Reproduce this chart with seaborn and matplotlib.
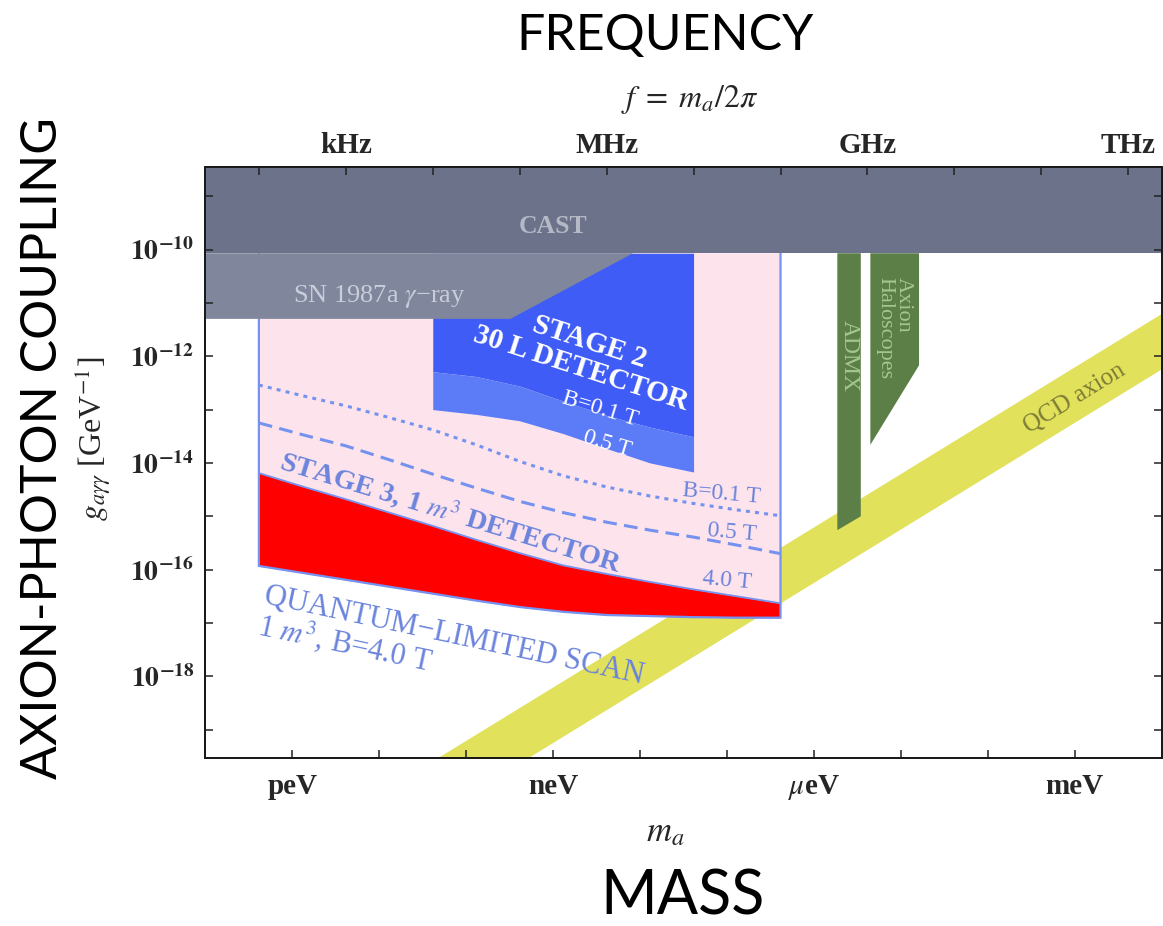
import numpy as np
import pandas as pd
import matplotlib
matplotlib.use("Agg")
import matplotlib.pyplot as plt
from matplotlib.ticker import NullLocator
import seaborn as sns

H_EV = 4.135667e-15  # Planck constant in eV s, converts frequency to mass

# ---- DM Radio sensitivity curves: log10(g [GeV^-1]) versus log10(f [Hz]) ----
stage3_logf = [2.0, 2.5, 3.0, 3.5, 4.0, 4.5, 5.0, 5.5, 6.0, 6.5, 7.0, 7.5, 8.0]
stage3_b01 = [-12.54, -12.74, -12.93, -13.15, -13.38, -13.66, -13.97, -14.24,
              -14.45, -14.62, -14.76, -14.88, -14.99]
stage3_b05 = [-13.25, -13.47, -13.68, -13.94, -14.21, -14.47, -14.72, -14.93,
              -15.11, -15.26, -15.39, -15.54, -15.70]
stage3_b40 = [-14.19, -14.44, -14.68, -14.93, -15.18, -15.44, -15.69, -15.92,
              -16.08, -16.23, -16.37, -16.50, -16.63]
quantum_limit = [-15.93, -16.06, -16.19, -16.32, -16.45, -16.58, -16.70, -16.79,
                 -16.85, -16.87, -16.89, -16.90, -16.90]

stage2_logf = [4.0, 4.5, 5.0, 5.5, 6.0, 6.5, 7.0]
stage2_b01 = [-12.29, -12.38, -12.56, -12.84, -13.11, -13.33, -13.51]
stage2_b05 = [-13.00, -13.09, -13.21, -13.45, -13.73, -14.00, -14.17]

# ---- existing limits ----
cast_limit = 10 ** -10.07                      # GeV^-1
sn_limit = 10 ** -11.30                        # GeV^-1
sn_mass_edges = [10 ** -9.49, 10 ** -8.08]     # eV: knee of the SN bound, meets CAST

admx_mass = [10 ** -5.73, 10 ** -5.46]         # eV
admx_floor = [10 ** -15.26, 10 ** -15.00]      # GeV^-1
halo_mass = [10 ** -5.35, 10 ** -4.79]         # eV
halo_floor = [10 ** -13.66, 10 ** -12.17]      # GeV^-1

# QCD axion band: g = c * m_a, c in GeV^-1 / eV
qcd_coeff_upper = 10 ** -9.21
qcd_coeff_lower = 10 ** -10.25

# ---- axis labels ----
mass_ticks = [1e-12, 1e-9, 1e-6, 1e-3]
mass_labels = ["peV", "neV", r"$\mu$eV", "meV"]
freq_ticks = [1e3, 1e6, 1e9, 1e12]
freq_labels = ["kHz", "MHz", "GHz", "THz"]
g_label_exponents = [-10, -12, -14, -16, -18]

# ---- colours ----
c_cast = "#6b7289"
c_sn = "#80879c"
c_pink = "#fde3ec"
c_blue_dark = "#3f5cf6"
c_blue_light = "#5b7cf6"
c_red = "#ff0000"
c_outline = "#7592f0"
c_stage3_text = "#6b84dc"
c_green = "#5c7f47"
c_green_text = "#a5c68e"
c_yellow = "#e1e15c"
c_qcd_text = "#7d7d35"

sns.set_theme(style="ticks")
plt.rcParams.update({
    "font.family": ["Liberation Serif", "DejaVu Serif"],
    "mathtext.fontset": "stix",
    "axes.linewidth": 1.4,
    "axes.edgecolor": "#1a1a1a",
})

# data tables in physical units
s3 = pd.DataFrame({
    "mass": H_EV * 10 ** np.array(stage3_logf),
    "b01": 10 ** np.array(stage3_b01),
    "b05": 10 ** np.array(stage3_b05),
    "b40": 10 ** np.array(stage3_b40),
    "ql": 10 ** np.array(quantum_limit),
})
s2 = pd.DataFrame({
    "mass": H_EV * 10 ** np.array(stage2_logf),
    "b01": 10 ** np.array(stage2_b01),
    "b05": 10 ** np.array(stage2_b05),
})

fig = plt.figure(figsize=(11.63, 9.26), dpi=100)
ax = fig.add_axes([0.1765, 0.1814, 0.8223, 0.6379])
ax.set_xscale("log")
ax.set_yscale("log")
xlim = (1e-13, 1e-2)
ylim = (10 ** -19.53, 10 ** -8.46)
ax.set_xlim(*xlim)
ax.set_ylim(*ylim)

# QCD axion band
m_band = np.array([1e-14, 1.0])
ax.fill_between(m_band, qcd_coeff_lower * m_band, qcd_coeff_upper * m_band,
                color=c_yellow, lw=0, zorder=1)

# Stage 3 search box
m_lo, m_hi = s3["mass"].iloc[0], s3["mass"].iloc[-1]
box_x = np.concatenate([[m_lo, m_hi], s3["mass"].values[::-1]])
box_y = np.concatenate([[cast_limit, cast_limit], s3["ql"].values[::-1]])
ax.fill(box_x, box_y, color=c_pink, lw=0, zorder=2)
ax.fill_between(s3["mass"], s3["ql"], s3["b40"], color=c_red, lw=0, zorder=2.2)

# Stage 2 region
ax.fill_between(s2["mass"], s2["b01"], cast_limit, color=c_blue_dark, lw=0, zorder=2.3)
ax.fill_between(s2["mass"], s2["b05"], s2["b01"], color=c_blue_light, lw=0, zorder=2.3)

# outline of the stage 3 box and the 4 T reach
ax.plot(np.concatenate([[m_lo], s3["mass"], [m_hi]]),
        np.concatenate([[cast_limit], s3["ql"], [cast_limit]]),
        color=c_outline, lw=1.6, zorder=2.6, solid_joinstyle="miter")
sns.lineplot(data=s3, x="mass", y="b40", ax=ax, color=c_outline, lw=1.3,
             estimator=None, sort=False, zorder=2.6)
sns.lineplot(data=s3, x="mass", y="b01", ax=ax, color=c_outline, lw=2.2,
             linestyle=(0, (1.3, 1.7)), estimator=None, sort=False, zorder=2.6)
sns.lineplot(data=s3, x="mass", y="b05", ax=ax, color=c_outline, lw=2.2,
             linestyle=(0, (4.5, 2.4)), estimator=None, sort=False, zorder=2.6)

# haloscope limits
ax.fill([admx_mass[0], admx_mass[1], admx_mass[1], admx_mass[0]],
        [cast_limit, cast_limit, admx_floor[1], admx_floor[0]],
        color=c_green, lw=0, zorder=2.5)
ax.fill([halo_mass[0], halo_mass[1], halo_mass[1], halo_mass[0]],
        [cast_limit, cast_limit, halo_floor[1], halo_floor[0]],
        color=c_green, lw=0, zorder=2.5)

# SN 1987a and CAST
ax.fill([1e-14, sn_mass_edges[0], sn_mass_edges[1], 1e-14],
        [sn_limit, sn_limit, cast_limit, cast_limit],
        color=c_sn, lw=0, zorder=3)
ax.fill_between([1e-14, 1.0], cast_limit, 1e-7, color=c_cast, lw=0, zorder=3.2)

# ---- annotations ----
def t(lm, lg, s, **kw):
    kw.setdefault("ha", "center")
    kw.setdefault("va", "center")
    kw.setdefault("rotation_mode", "anchor")
    kw.setdefault("zorder", 5)
    ax.text(10 ** lm, 10 ** lg, s, **kw)

t(-9.0, -9.56, "CAST", color="#b5b9c6", fontsize=18.5, fontweight="bold")
t(-11.0, -10.875, "SN 1987a $\\gamma$\u2212ray", color="#c9cdd9", fontsize=19)
t(-8.63, -11.98, "STAGE 2\n30 L DETECTOR", color="white", fontsize=21,
  fontweight="bold", rotation=-18, multialignment="center", linespacing=1.0)
t(-8.456, -12.99, "B=0.1 T", color="white", fontsize=17, rotation=-17)
t(-8.376, -13.64, "0.5 T", color="white", fontsize=17, rotation=-17)
t(-7.067, -14.58, "B=0.1 T", color=c_stage3_text, fontsize=17, rotation=-5)
t(-6.94, -15.31, "0.5 T", color=c_stage3_text, fontsize=17, rotation=-5)
t(-6.998, -16.21, "4.0 T", color=c_stage3_text, fontsize=17, rotation=-5)
t(-10.17, -14.92, "STAGE 3, 1 $m^3$ DETECTOR", color=c_stage3_text, fontsize=20.5,
  fontweight="bold", rotation=-17)
t(-12.28, -16.23, "QUANTUM\u2212LIMITED SCAN\n1 $m^3$, B=4.0 T", color=c_stage3_text,
  fontsize=22, rotation=-12, ha="left", va="top", multialignment="left",
  linespacing=0.9)
t(-3.0, -12.785, "QCD axion", color=c_qcd_text, fontsize=18, rotation=31.5)
t(-5.596, -12.0, "ADMX", color=c_green_text, fontsize=17, rotation=-90)
t(-5.08, -11.47, "Axion\nHaloscopes", color=c_green_text, fontsize=16,
  rotation=-90, multialignment="left", linespacing=0.95)

# ---- axes, ticks, labels ----
ax.set_xticks([10.0 ** k for k in range(-13, -1)],
              labels=[mass_labels[mass_ticks.index(10.0 ** k)]
                      if 10.0 ** k in mass_ticks else "" for k in range(-13, -1)],
              fontweight="bold")
ax.set_yticks([10.0 ** k for k in range(-19, -8)],
              labels=[r"$\mathbf{10^{%d}}$" % k if k in g_label_exponents else ""
                      for k in range(-19, -8)])
ax.xaxis.set_minor_locator(NullLocator())
ax.yaxis.set_minor_locator(NullLocator())
ax.tick_params(which="major", direction="in", length=6, width=1.1, color="#222222",
               labelsize=20, top=False, right=True, pad=8)
ax.tick_params(axis="x", pad=11, labelsize=21)
for a in (ax.xaxis, ax.yaxis):
    a.set_zorder(10)
for sp in ax.spines.values():
    sp.set_zorder(11)

axt = ax.twiny()
axt.set_xscale("log")
axt.set_xlim(xlim[0] / H_EV, xlim[1] / H_EV)
axt.set_xticks([10.0 ** k for k in range(2, 13)],
               labels=[freq_labels[freq_ticks.index(10.0 ** k)]
                       if 10.0 ** k in freq_ticks else "" for k in range(2, 13)],
               fontweight="bold")
axt.xaxis.set_minor_locator(NullLocator())
axt.tick_params(which="major", direction="in", length=6, width=1.1, color="#222222",
                labelsize=21, pad=6)

ax.set_ylabel(r"$g_{a\gamma\gamma}$ [GeV$^{-1}$]", fontsize=23)
ax.yaxis.set_label_coords(-0.097, 0.54)
ax.set_xlabel(r"$m_a$", fontsize=25)
ax.xaxis.set_label_coords(0.481, -0.098)

fig.text(690 / 1163, 1 - 100 / 926, r"$f\;=\;m_a/2\pi$", fontsize=23,
         ha="center", va="center")

big = dict(family=["Lato", "DejaVu Sans"], color="black", ha="center", va="center")
fig.text(665 / 1163, 1 - 36 / 926, "FREQUENCY", fontsize=36, **big)
fig.text(683 / 1163, 1 - 897 / 926, "MASS", fontsize=44, **big)
fig.text(43 / 1163, 1 - 448 / 926, "AXION-PHOTON COUPLING", rotation=90,
         fontsize=36, **big)

fig.savefig("out.png", dpi=100)
